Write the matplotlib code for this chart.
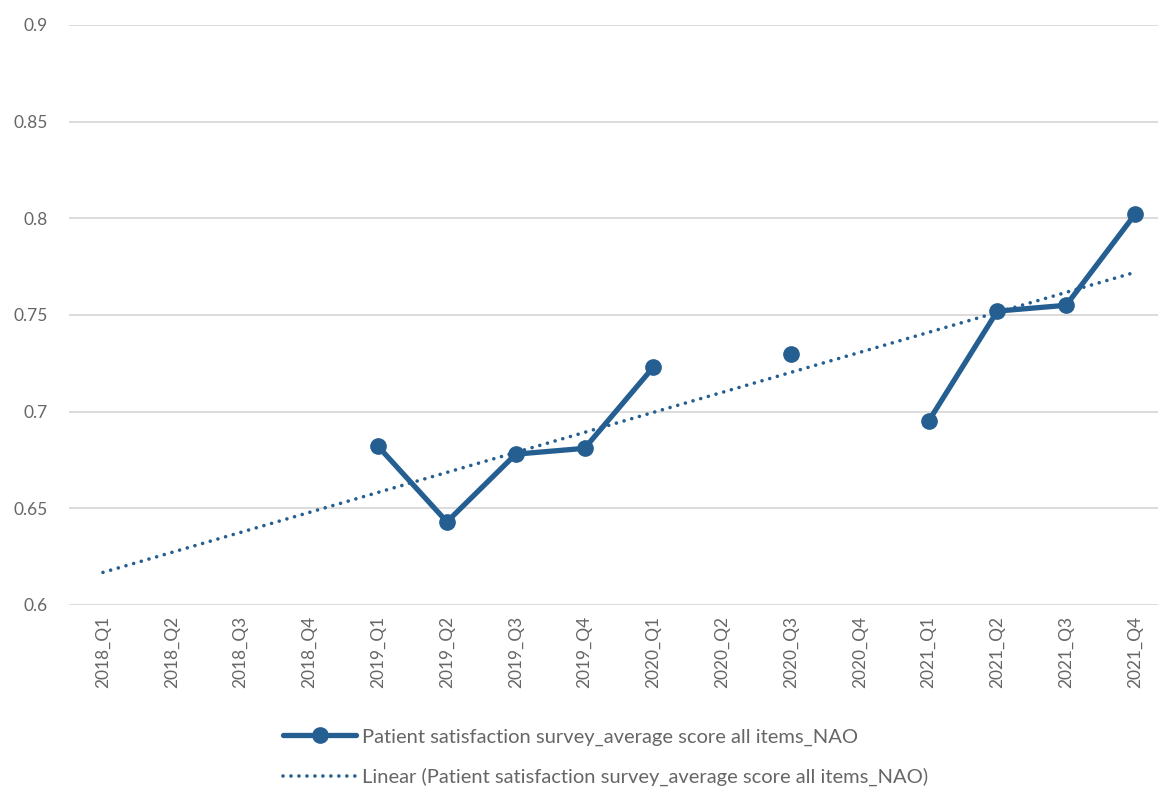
import numpy as np
import matplotlib
matplotlib.use("Agg")
import matplotlib.pyplot as plt
from matplotlib.lines import Line2D

plt.rcParams['font.family'] = ['Lato', 'DejaVu Sans']

quarters = ["2018_Q1", "2018_Q2", "2018_Q3", "2018_Q4",
            "2019_Q1", "2019_Q2", "2019_Q3", "2019_Q4",
            "2020_Q1", "2020_Q2", "2020_Q3", "2020_Q4",
            "2021_Q1", "2021_Q2", "2021_Q3", "2021_Q4"]
scores = [np.nan, np.nan, np.nan, np.nan,
          0.682, 0.643, 0.678, 0.681,
          0.723, np.nan, 0.730, np.nan,
          0.695, 0.752, 0.755, 0.802]
y_ticks = [0.6, 0.65, 0.7, 0.75, 0.8, 0.85, 0.9]
y_tick_labels = ["0.6", "0.65", "0.7", "0.75", "0.8", "0.85", "0.9"]
series_name = "Patient satisfaction survey_average score all items_NAO"

blue = "#255e91"
grey_text = "#666666"
dots = (0, (0.01, 2.2))

x = np.arange(1, len(quarters) + 1)
y = np.array(scores, dtype=float)

fig = plt.figure(figsize=(11.58, 7.87), dpi=100)
ax = fig.add_axes([0.0592, 0.2313, 0.9506, 0.737])

ax.plot(x, y, color=blue, linewidth=3.8, marker='o', markersize=11,
        solid_capstyle='round', zorder=3)

# Least-squares trendline over the quarters that have a value
mask = ~np.isnan(y)
slope, intercept = np.polyfit(x[mask], y[mask], 1)
trend = slope * x + intercept
ax.plot(x, trend, color=blue, linewidth=2.6, linestyle=dots,
        dash_capstyle='round', zorder=2)

ax.set_xlim(0.5, len(quarters) + 0.5)
ax.set_ylim(0.6, 0.9)
ax.set_yticks(y_ticks)
ax.set_yticklabels(y_tick_labels)
ax.set_xticks(x)
ax.set_xticklabels(quarters, rotation=90)
ax.tick_params(axis='both', length=0, labelcolor=grey_text, labelsize=12.5)
ax.tick_params(axis='y', pad=15)
ax.tick_params(axis='x', pad=8)
ax.grid(axis='y', color='#d9d9d9', linewidth=1.3)
ax.set_axisbelow(True)
for s in ax.spines.values():
    s.set_visible(False)

handles = [
    Line2D([], [], color=blue, linewidth=3.8, marker='o', markersize=11,
           solid_capstyle='round'),
    Line2D([], [], color=blue, linewidth=2.6, linestyle=dots,
           dash_capstyle='round'),
]
labels = [series_name, "Linear (" + series_name + ")"]
fig.legend(handles, labels, loc='lower left', bbox_to_anchor=(0.236, -0.0115),
           frameon=False, fontsize=14.5, labelcolor=grey_text, borderpad=0,
           handlelength=3.6, handletextpad=0.3, labelspacing=1.1)

fig.savefig("out.png", dpi=100)
